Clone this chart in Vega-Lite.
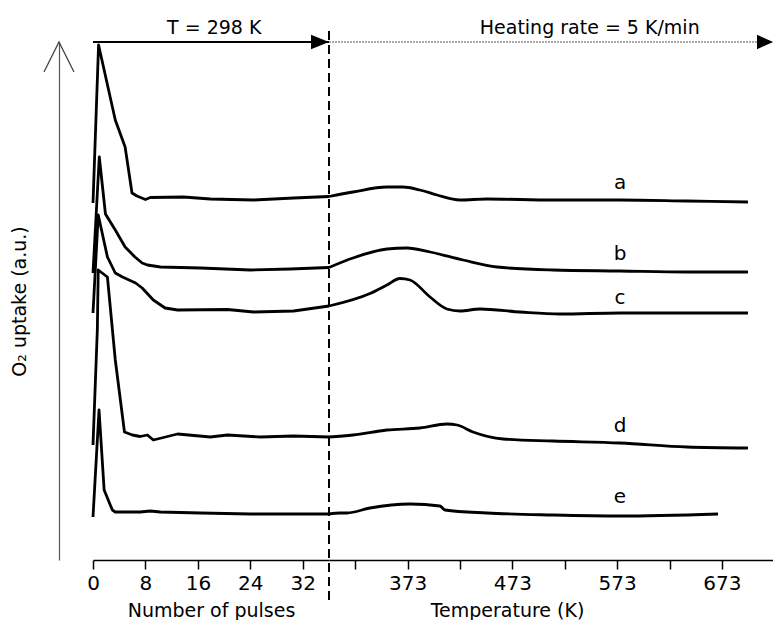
{
  "$schema": "https://vega.github.io/schema/vega-lite/v6.json",
  "background": "white",
  "padding": {"left": 10, "top": 18, "right": 0, "bottom": 0},
  "spacing": 0,
  "bounds": "flush",
  "config": {
    "view": {"stroke": null},
    "font": "DejaVu Sans",
    "axis": {
      "grid": false,
      "labelFlush": false,
      "domainColor": "black",
      "domainWidth": 1.5,
      "tickColor": "black",
      "tickWidth": 1.5,
      "labelFont": "DejaVu Sans",
      "labelFontSize": 20,
      "labelColor": "black",
      "titleFont": "DejaVu Sans",
      "titleFontSize": 19,
      "titleFontWeight": "normal",
      "titleColor": "black"
    }
  },
  "datasets": {
    "pulses": [
      {"series": "a", "pulse": 0, "uptake": 71.4}, {"series": "a", "pulse": 0.85, "uptake": 103}, {"series": "a", "pulse": 3.4, "uptake": 88}, {"series": "a", "pulse": 4.9, "uptake": 82.6}, {"series": "a", "pulse": 5.95, "uptake": 73.4}, {"series": "a", "pulse": 6.7, "uptake": 72.8}, {"series": "a", "pulse": 8.0, "uptake": 72.1}, {"series": "a", "pulse": 8.75, "uptake": 72.5}, {"series": "a", "pulse": 13.8, "uptake": 72.6}, {"series": "a", "pulse": 17.9, "uptake": 72.2}, {"series": "a", "pulse": 24.5, "uptake": 72}, {"series": "a", "pulse": 30.6, "uptake": 72.4}, {"series": "a", "pulse": 36, "uptake": 72.7},
      {"series": "b", "pulse": 0, "uptake": 57.4}, {"series": "b", "pulse": 0.96, "uptake": 80.6}, {"series": "b", "pulse": 1.9, "uptake": 69.2}, {"series": "b", "pulse": 3.4, "uptake": 66}, {"series": "b", "pulse": 4.9, "uptake": 62.6}, {"series": "b", "pulse": 6.4, "uptake": 60.6}, {"series": "b", "pulse": 7.5, "uptake": 59.4}, {"series": "b", "pulse": 8.3, "uptake": 59}, {"series": "b", "pulse": 10.3, "uptake": 58.6}, {"series": "b", "pulse": 16.4, "uptake": 58.4}, {"series": "b", "pulse": 24, "uptake": 58}, {"series": "b", "pulse": 30.1, "uptake": 58.2}, {"series": "b", "pulse": 36, "uptake": 58.5},
      {"series": "c", "pulse": 0, "uptake": 49.4}, {"series": "c", "pulse": 0.8, "uptake": 69}, {"series": "c", "pulse": 2.2, "uptake": 60.6}, {"series": "c", "pulse": 3.4, "uptake": 57.4}, {"series": "c", "pulse": 4.5, "uptake": 56.6}, {"series": "c", "pulse": 6.5, "uptake": 55.4}, {"series": "c", "pulse": 7.5, "uptake": 54.4}, {"series": "c", "pulse": 9.2, "uptake": 52}, {"series": "c", "pulse": 11, "uptake": 50.4}, {"series": "c", "pulse": 12.9, "uptake": 50}, {"series": "c", "pulse": 20.5, "uptake": 50.1}, {"series": "c", "pulse": 24.5, "uptake": 49.6}, {"series": "c", "pulse": 30.6, "uptake": 49.8}, {"series": "c", "pulse": 36, "uptake": 50.8},
      {"series": "d", "pulse": 0, "uptake": 23}, {"series": "d", "pulse": 0.66, "uptake": 46}, {"series": "d", "pulse": 0.8, "uptake": 58}, {"series": "d", "pulse": 2.2, "uptake": 56.6}, {"series": "d", "pulse": 3.4, "uptake": 40}, {"series": "d", "pulse": 4.8, "uptake": 25.6}, {"series": "d", "pulse": 6.0, "uptake": 25}, {"series": "d", "pulse": 7.2, "uptake": 24.7}, {"series": "d", "pulse": 8.3, "uptake": 25}, {"series": "d", "pulse": 9.2, "uptake": 24}, {"series": "d", "pulse": 12.9, "uptake": 25.2}, {"series": "d", "pulse": 17.9, "uptake": 24.6}, {"series": "d", "pulse": 20.5, "uptake": 25}, {"series": "d", "pulse": 25.5, "uptake": 24.6}, {"series": "d", "pulse": 30.6, "uptake": 24.8}, {"series": "d", "pulse": 36, "uptake": 24.6},
      {"series": "e", "pulse": 0, "uptake": 8.6}, {"series": "e", "pulse": 0.92, "uptake": 30}, {"series": "e", "pulse": 1.7, "uptake": 14}, {"series": "e", "pulse": 2.95, "uptake": 10}, {"series": "e", "pulse": 3.4, "uptake": 9.6}, {"series": "e", "pulse": 7.2, "uptake": 9.6}, {"series": "e", "pulse": 8.7, "uptake": 9.8}, {"series": "e", "pulse": 10.3, "uptake": 9.6}, {"series": "e", "pulse": 16.4, "uptake": 9.4}, {"series": "e", "pulse": 24, "uptake": 9.2}, {"series": "e", "pulse": 36, "uptake": 9.2}
    ],
    "heating": [
      {"series": "a", "T": 298, "uptake": 72.7}, {"series": "a", "T": 320.9, "uptake": 73.6}, {"series": "a", "T": 353.3, "uptake": 74.6}, {"series": "a", "T": 368.6, "uptake": 74.6}, {"series": "a", "T": 384.8, "uptake": 74}, {"series": "a", "T": 401.1, "uptake": 73}, {"series": "a", "T": 423, "uptake": 72}, {"series": "a", "T": 448.8, "uptake": 72.2}, {"series": "a", "T": 511.7, "uptake": 72}, {"series": "a", "T": 575.7, "uptake": 72}, {"series": "a", "T": 639.6, "uptake": 71.8}, {"series": "a", "T": 697.8, "uptake": 71.6},
      {"series": "b", "T": 298, "uptake": 58.5}, {"series": "b", "T": 320.9, "uptake": 60.4}, {"series": "b", "T": 353.3, "uptake": 62.2}, {"series": "b", "T": 372.4, "uptake": 62.4}, {"series": "b", "T": 394.4, "uptake": 61.6}, {"series": "b", "T": 425.9, "uptake": 60}, {"series": "b", "T": 458.3, "uptake": 58.6}, {"series": "b", "T": 511.7, "uptake": 58}, {"series": "b", "T": 575.7, "uptake": 57.8}, {"series": "b", "T": 639.6, "uptake": 57.6}, {"series": "b", "T": 697.8, "uptake": 57.6},
      {"series": "c", "T": 298, "uptake": 50.8}, {"series": "c", "T": 337.1, "uptake": 53.3}, {"series": "c", "T": 353.3, "uptake": 55}, {"series": "c", "T": 365.7, "uptake": 56.3}, {"series": "c", "T": 375.3, "uptake": 56}, {"series": "c", "T": 394.4, "uptake": 52.6}, {"series": "c", "T": 410.6, "uptake": 50.2}, {"series": "c", "T": 423, "uptake": 49.8}, {"series": "c", "T": 442.1, "uptake": 50.2}, {"series": "c", "T": 480.3, "uptake": 49.6}, {"series": "c", "T": 518.4, "uptake": 49.2}, {"series": "c", "T": 575.7, "uptake": 49.4}, {"series": "c", "T": 639.6, "uptake": 49.4}, {"series": "c", "T": 697.8, "uptake": 49.4},
      {"series": "d", "T": 298, "uptake": 24.6}, {"series": "d", "T": 320.9, "uptake": 25}, {"series": "d", "T": 353.3, "uptake": 26}, {"series": "d", "T": 384.8, "uptake": 26.4}, {"series": "d", "T": 410.6, "uptake": 27.2}, {"series": "d", "T": 420.2, "uptake": 27}, {"series": "d", "T": 435.4, "uptake": 25.6}, {"series": "d", "T": 464.1, "uptake": 24.2}, {"series": "d", "T": 511.7, "uptake": 23.8}, {"series": "d", "T": 575.7, "uptake": 23.4}, {"series": "d", "T": 639.6, "uptake": 22.6}, {"series": "d", "T": 697.8, "uptake": 22.4},
      {"series": "e", "T": 298, "uptake": 9.2}, {"series": "e", "T": 308.5, "uptake": 9.4}, {"series": "e", "T": 315.2, "uptake": 9.4}, {"series": "e", "T": 337.1, "uptake": 10.4}, {"series": "e", "T": 375.3, "uptake": 11.2}, {"series": "e", "T": 403.9, "uptake": 10.8}, {"series": "e", "T": 408.7, "uptake": 10}, {"series": "e", "T": 448.8, "uptake": 9.4}, {"series": "e", "T": 511.7, "uptake": 9}, {"series": "e", "T": 575.7, "uptake": 8.8}, {"series": "e", "T": 669.2, "uptake": 9.2}
    ],
    "labels": [
      {"series": "a", "T": 575.7, "uptake": 74.2},
      {"series": "b", "T": 575.7, "uptake": 60},
      {"series": "c", "T": 575.7, "uptake": 51.2},
      {"series": "d", "T": 575.7, "uptake": 25.6},
      {"series": "e", "T": 575.7, "uptake": 11.4}
    ]
  },
  "hconcat": [
    {
      "width": 236,
      "height": 518,
      "layer": [
        {
          "data": {"name": "pulses"},
          "mark": {"type": "line", "color": "black", "strokeWidth": 2.8, "interpolate": "linear", "strokeJoin": "round"},
          "encoding": {
            "x": {
              "field": "pulse", "type": "quantitative",
              "scale": {"domain": [0, 36], "nice": false, "zero": false},
              "axis": {
                "title": "Number of pulses",
                "values": [0, 4, 8, 12, 16, 20, 24, 28, 32],
                "labelExpr": "datum.value % 8 === 0 ? datum.label : ''",
                "tickSize": 9,
                "labelPadding": 4,
                "titlePadding": 8,
                "encode": {"ticks": {"update": {"y": {"value": -7}}}}
              }
            },
            "y": {
              "field": "uptake", "type": "quantitative",
              "scale": {"domain": [0, 103.6], "nice": false, "zero": false},
              "axis": {
                "title": "O₂ uptake (a.u.)",
                "offset": 34,
                "ticks": false,
                "labels": false,
                "domainColor": "#555",
                "domainWidth": 1.2,
                "titlePadding": 30
              }
            },
            "detail": {"field": "series"}
          }
        },
        {
          "data": {"values": [{}]},
          "mark": {"type": "rule", "color": "black", "strokeWidth": 2},
          "encoding": {"x": {"datum": 0}, "x2": {"datum": 36}, "y": {"datum": 103.6}}
        },
        {
          "data": {"values": [{}]},
          "mark": {"type": "point", "shape": "M0,0L-1,-0.4L-1,0.4Z", "filled": true, "color": "black", "size": 1296, "opacity": 1},
          "encoding": {"x": {"datum": 36}, "y": {"datum": 103.6}}
        },
        {
          "data": {"values": [{}]},
          "mark": {"type": "point", "shape": "M-0.5,1L0,0L0.5,1", "filled": false, "color": "#444", "strokeWidth": 1.3, "size": 3600, "opacity": 1},
          "encoding": {"x": {"datum": -5.19}, "y": {"datum": 103.6}}
        },
        {
          "data": {"values": [{}]},
          "mark": {"type": "text", "text": "T = 298 K", "fontSize": 19, "baseline": "alphabetic", "align": "center", "color": "black"},
          "encoding": {"x": {"datum": 18.5}, "y": {"datum": 105.2}}
        }
      ]
    },
    {
      "width": 444,
      "height": 518,
      "layer": [
        {
          "data": {"name": "heating"},
          "mark": {"type": "line", "color": "black", "strokeWidth": 2.8, "interpolate": "monotone"},
          "encoding": {
            "x": {
              "field": "T", "type": "quantitative",
              "scale": {"domain": [298, 721.7], "nice": false, "zero": false},
              "axis": {
                "title": "Temperature (K)",
                "titleX": 178,
                "values": [323, 348, 373, 398, 423, 448, 473, 498, 523, 548, 573, 598, 623, 648, 673, 698],
                "labelExpr": "(datum.value - 373) % 100 === 0 ? datum.label : ''",
                "tickSize": 9,
                "labelPadding": 4,
                "titlePadding": 8,
                "encode": {"ticks": {"update": {"y": {"value": -7}}}}
              }
            },
            "y": {
              "field": "uptake", "type": "quantitative",
              "scale": {"domain": [0, 103.6], "nice": false, "zero": false},
              "axis": null
            },
            "detail": {"field": "series"}
          }
        },
        {
          "data": {"name": "labels"},
          "mark": {"type": "text", "fontSize": 20, "baseline": "alphabetic", "align": "center", "color": "black"},
          "encoding": {
            "x": {"field": "T", "type": "quantitative"},
            "y": {"field": "uptake", "type": "quantitative"},
            "text": {"field": "series"}
          }
        },
        {
          "data": {"values": [{}]},
          "mark": {"type": "rule", "color": "black", "strokeWidth": 2, "strokeDash": [9, 5]},
          "encoding": {"x": {"datum": 298}, "y": {"datum": -8}, "y2": {"datum": 106.6}}
        },
        {
          "data": {"values": [{}]},
          "mark": {"type": "rule", "color": "#555", "strokeWidth": 1.2, "strokeDash": [2, 1]},
          "encoding": {"x": {"datum": 298}, "x2": {"datum": 721.7}, "y": {"datum": 103.6}}
        },
        {
          "data": {"values": [{}]},
          "mark": {"type": "point", "shape": "M0,0L-1,-0.45L-1,0.45Z", "filled": true, "color": "black", "size": 1024, "opacity": 1},
          "encoding": {"x": {"datum": 721.7}, "y": {"datum": 103.6}}
        },
        {
          "data": {"values": [{}]},
          "mark": {"type": "text", "text": "Heating rate = 5 K/min", "fontSize": 19, "baseline": "alphabetic", "align": "center", "color": "black"},
          "encoding": {"x": {"datum": 546.8}, "y": {"datum": 105.2}}
        }
      ]
    }
  ]
}
